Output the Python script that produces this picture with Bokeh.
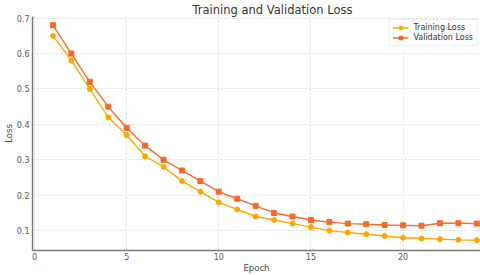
from bokeh.plotting import figure
from bokeh.models import Range1d, Legend, LegendItem, FixedTicker
from bokeh.embed import file_html
from bokeh.resources import INLINE

epochs = list(range(1, 25))
training_loss = [0.65, 0.58, 0.50, 0.42, 0.37, 0.31, 0.28, 0.24, 0.21, 0.18, 0.16, 0.14,
                 0.13, 0.12, 0.11, 0.10, 0.095, 0.09, 0.085, 0.08, 0.078, 0.076, 0.074, 0.073]
validation_loss = [0.68, 0.60, 0.52, 0.45, 0.39, 0.34, 0.30, 0.27, 0.24, 0.21, 0.19, 0.17,
                   0.15, 0.14, 0.13, 0.124, 0.12, 0.118, 0.116, 0.115, 0.114, 0.121, 0.121, 0.12]
x_ticks = [0, 5, 10, 15, 20]
y_ticks = [0.1, 0.2, 0.3, 0.4, 0.5, 0.6, 0.7]

FONT = "DejaVu Sans"
X0, X1 = -0.11, 24.2
Y0, Y1 = 0.044, 0.7045

p = figure(width=480, height=275, output_backend="svg", toolbar_location=None,
           x_range=Range1d(X0, X1), y_range=Range1d(Y0, Y1),
           title="Training and Validation Loss",
           x_axis_label="Epoch", y_axis_label="Loss",
           min_border_left=32, min_border_right=0, min_border_top=14, min_border_bottom=23)
p.outline_line_color = None
p.background_fill_color = "white"
p.border_fill_color = "white"

p.title.text_font = FONT
p.title.text_font_size = "11.5px"
p.title.text_font_style = "normal"
p.title.text_color = "#333333"
p.title.align = "left"
p.title.offset = 160
p.title.standoff = 0
p.title.text_line_height = 0.8

for ax in (p.xaxis[0], p.yaxis[0]):
    ax.axis_line_color = "#777777"
    ax.axis_line_width = 1.4
    ax.major_tick_in = 0
    ax.major_tick_out = 0
    ax.minor_tick_line_color = None
    ax.major_label_text_font = FONT
    ax.major_label_text_font_size = "8px"
    ax.major_label_text_color = "#555555"
    ax.major_label_standoff = 3
    ax.axis_label_text_font = FONT
    ax.axis_label_text_font_size = "8.5px"
    ax.axis_label_text_font_style = "normal"
    ax.axis_label_text_color = "#444444"
    ax.axis_label_standoff = 0
p.xaxis[0].major_label_standoff = 2
p.xaxis.ticker = FixedTicker(ticks=x_ticks)
p.yaxis.ticker = FixedTicker(ticks=y_ticks)

p.xgrid.ticker = FixedTicker(ticks=x_ticks)
p.ygrid.ticker = FixedTicker(ticks=y_ticks)
for g in (p.xgrid[0], p.ygrid[0]):
    g.grid_line_color = "#dadada"
    g.grid_line_dash = "2 2"
    g.grid_line_width = 1

TRAIN_C = "#FFA500"
VAL_C = "#F4692A"

r1 = p.line(epochs, training_loss, line_color=TRAIN_C, line_width=1.4)
r1m = p.scatter(epochs, training_loss, marker="circle", size=5, fill_color=TRAIN_C, line_color=TRAIN_C)
r2 = p.line(epochs, validation_loss, line_color=VAL_C, line_width=1.4)
r2m = p.scatter(epochs, validation_loss, marker="square", size=5, fill_color=VAL_C, line_color=VAL_C)

legend = Legend(items=[LegendItem(label="Training Loss", renderers=[r1, r1m]),
                       LegendItem(label="Validation Loss", renderers=[r2, r2m])],
                location="top_right")
legend.label_text_font = FONT
legend.label_text_font_size = "8px"
legend.label_text_color = "#333333"
legend.label_height = 9
legend.glyph_height = 9
legend.glyph_width = 16
legend.spacing = 1
legend.padding = 3
legend.margin = 3
legend.border_line_color = "#dddddd"
legend.background_fill_alpha = 0.9
p.add_layout(legend)

open("out.html", "w").write(file_html(p, INLINE))
